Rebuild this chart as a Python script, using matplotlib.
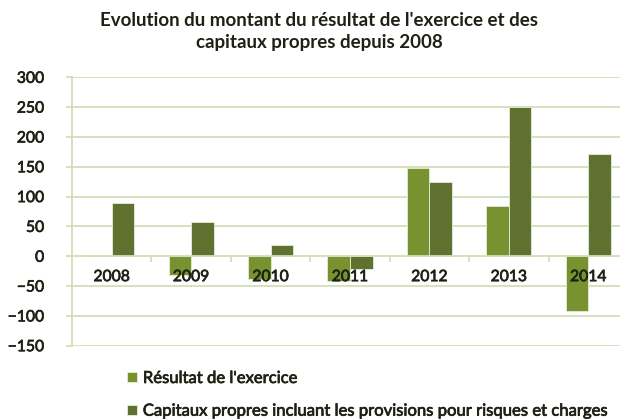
import matplotlib.pyplot as plt
import matplotlib.patheffects as pe
import numpy as np

years = ['2008', '2009', '2010', '2011', '2012', '2013', '2014']
resultat = [1, -31, -39, -41, 148, 85, -92]
capitaux = [90, 58, 19, -21, 125, 250, 171]
labels = ["Résultat de l'exercice",
          "Capitaux propres incluant les provisions pour risques et charges"]

lightGreen = '#77922F'
darkGreen = '#5F7230'
gridCol = '#D5DDB8'
txtCol = '#1E2114'

plt.rcParams['font.family'] = ['Lato', 'DejaVu Sans']

fig = plt.figure(figsize=(6.2, 4.19), dpi=100)
ax = fig.add_axes([72/620, 1-345.7/419, (628-72)/620, (345.7-77.3)/419])

x = np.arange(len(years))
w = 0.285
# grid drawn by hand so tick labels can stay above the bars
for v in range(-150, 301, 50):
    if v != 0:
        ax.axhline(v, color=gridCol, linewidth=1.3, zorder=0)
b1 = ax.bar(x - w/2, resultat, w, color=lightGreen, edgecolor='#E8EDD8', linewidth=0.6, label=labels[0], zorder=1)
b2 = ax.bar(x + w/2, capitaux, w, color=darkGreen, edgecolor='#E8EDD8', linewidth=0.6, label=labels[1], zorder=1)

ax.set_xlim(-0.5, len(years) - 0.5)
ax.set_ylim(-150, 300)
ax.set_yticks(range(-150, 301, 50))

for s in ['top', 'right']:
    ax.spines[s].set_visible(False)
ax.spines['left'].set_color(gridCol)
ax.spines['left'].set_linewidth(1.3)
ax.spines['bottom'].set_position(('data', 0))
ax.spines['bottom'].set_color(gridCol)
ax.spines['bottom'].set_linewidth(1.3)

ax.set_xticks(x)
ax.set_xticklabels(years)
ax.set_xticks(np.arange(0.5, len(years) - 0.5), minor=True)
ax.tick_params(axis='x', which='major', length=0, pad=10, labelsize=11.3, labelcolor=txtCol)
ax.tick_params(axis='x', which='minor', length=4, width=1.3, color=gridCol)
ax.tick_params(axis='y', length=4, width=1.3, color=gridCol, pad=16, labelsize=11.3, labelcolor=txtCol)

heavy = [pe.withStroke(linewidth=0.5, foreground=txtCol)]
for t in ax.get_xticklabels():
    t.set_zorder(5)
    t.set_path_effects(heavy)
for t in ax.get_yticklabels():
    t.set_path_effects(heavy)

fig.text(0.515, 0.925, "Evolution du montant du résultat de l'exercice et des\ncapitaux propres depuis 2008",
         ha='center', va='center', fontsize=13.5, fontweight='bold', color=txtCol, linespacing=1.38)

leg = fig.legend(handles=[b1, b2], loc='upper left', bbox_to_anchor=(127/620, 1-370/419),
                 frameon=False, fontsize=12, handlelength=0.6, handleheight=0.6,
                 handletextpad=0.35, labelspacing=1.0, borderaxespad=0, borderpad=0)
for t in leg.get_texts():
    t.set_color(txtCol)
    t.set_path_effects(heavy)

plt.savefig('out.png', dpi=100)
